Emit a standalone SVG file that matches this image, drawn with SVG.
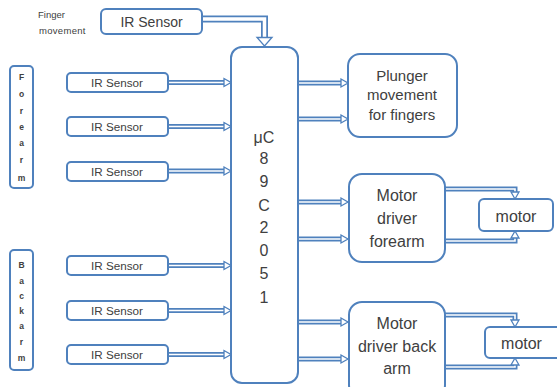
<svg xmlns="http://www.w3.org/2000/svg" width="557" height="387" viewBox="0 0 557 387">
<style>
.box{fill:#fff;stroke:#4F81BD;stroke-width:2}
.o{fill:none;stroke:#4F81BD;stroke-width:5;stroke-linejoin:miter}
.i{fill:none;stroke:#fff;stroke-width:1.6;stroke-linejoin:miter}
.ah{fill:#fff;stroke:#4F81BD;stroke-width:1.3;stroke-linejoin:miter}
text{font-family:"Liberation Sans",Arial,sans-serif;fill:#404040;text-anchor:middle}
.s{font-size:11.7px}
.m{font-size:16px}
.l{font-size:8.5px;font-weight:bold}
</style>
<rect width="557" height="387" fill="#fff"/>
<g id="connectors">
  <path class="o" d="M202,19H264.5V38" style="stroke-width:7"/>
  <path class="i" d="M202,19H264.5V38" style="stroke-width:3.5"/>
  <polygon class="ah" points="257,37.5 272,37.5 264.5,46"/>
  <g id="in-arrows">
    <path class="o" d="M168,82.5H225M168,126.5H225M168,171H225M168,265.5H225M168,310.5H225M168,354.5H225"/>
    <path class="i" d="M168,82.5H225M168,126.5H225M168,171H225M168,265.5H225M168,310.5H225M168,354.5H225"/>
    <path class="ah" d="M224,78.5L231,82.5L224,86.5ZM224,122.5L231,126.5L224,130.5ZM224,167L231,171L224,175ZM224,261.5L231,265.5L224,269.5ZM224,306.5L231,310.5L224,314.5ZM224,350.5L231,354.5L224,358.5Z"/>
  </g>
  <g id="out-arrows">
    <path class="o" d="M298,83H342M298,119H342M298,202H342M298,239H342M298,322H342M298,359H342"/>
    <path class="i" d="M298,83H342M298,119H342M298,202H342M298,239H342M298,322H342M298,359H342"/>
    <path class="ah" d="M341,79L348,83L341,87ZM341,115L348,119L341,123ZM341,198L348,202L341,206ZM341,235L348,239L341,243ZM341,318L348,322L341,326ZM341,355L348,359L341,363Z"/>
  </g>
  <g id="motor-arrows">
    <path class="o" d="M443,189H515V193M443,241H515V237M443,315H515V321M443,367H515V364"/>
    <path class="i" d="M443,189H515V193M443,241H515V237M443,315H515V321M443,367H515V364"/>
    <path class="ah" d="M511,192L515,199L519,192ZM511,238L515,231L519,238ZM511,320L515,327L519,320ZM511,365L515,358L519,365Z"/>
  </g>
</g>
<g id="finger-label">
  <text x="38" y="18" style="font-size:9.5px;text-anchor:start">Finger</text>
  <text x="39" y="34" style="font-size:9.5px;text-anchor:start;letter-spacing:0.3px">movement</text>
</g>
<g id="ir-top">
  <rect class="box" x="101" y="9" width="101" height="25" rx="5"/>
  <text x="151.5" y="26.5" style="font-size:14px">IR Sensor</text>
</g>
<g id="forearm">
  <rect class="box" x="10" y="66" width="23" height="122" rx="4"/>
  <text class="l" x="21.5" y="80">F</text>
  <text class="l" x="21.5" y="97">o</text>
  <text class="l" x="21.5" y="114">r</text>
  <text class="l" x="21.5" y="130">e</text>
  <text class="l" x="21.5" y="146">a</text>
  <text class="l" x="21.5" y="163">r</text>
  <text class="l" x="21.5" y="181">m</text>
</g>
<g id="backarm">
  <rect class="box" x="10" y="250" width="23" height="120" rx="4"/>
  <text class="l" x="21.5" y="268">B</text>
  <text class="l" x="21.5" y="284">a</text>
  <text class="l" x="21.5" y="299">c</text>
  <text class="l" x="21.5" y="314">k</text>
  <text class="l" x="21.5" y="329">a</text>
  <text class="l" x="21.5" y="345">r</text>
  <text class="l" x="21.5" y="361">m</text>
</g>
<g id="ir1"><rect class="box" x="67" y="73" width="101" height="19" rx="4"/><text class="s" x="117" y="86.7">IR Sensor</text></g>
<g id="ir2"><rect class="box" x="67" y="117" width="101" height="19" rx="4"/><text class="s" x="117" y="130.7">IR Sensor</text></g>
<g id="ir3"><rect class="box" x="67" y="162" width="101" height="19" rx="4"/><text class="s" x="117" y="175.7">IR Sensor</text></g>
<g id="ir4"><rect class="box" x="67" y="256" width="101" height="19" rx="4"/><text class="s" x="117" y="269.7">IR Sensor</text></g>
<g id="ir5"><rect class="box" x="67" y="301" width="101" height="19" rx="4"/><text class="s" x="117" y="314.7">IR Sensor</text></g>
<g id="ir6"><rect class="box" x="67" y="345" width="101" height="19" rx="4"/><text class="s" x="117" y="358.7">IR Sensor</text></g>
<g id="uc">
  <rect class="box" x="231" y="47" width="67" height="336" rx="11"/>
  <text class="m" x="264" y="143">μC</text>
  <text class="m" x="264" y="164">8</text>
  <text class="m" x="264" y="187">9</text>
  <text class="m" x="264" y="211">C</text>
  <text class="m" x="264" y="233">2</text>
  <text class="m" x="264" y="256">0</text>
  <text class="m" x="264" y="279">5</text>
  <text class="m" x="264" y="303">1</text>
</g>
<g id="plunger">
  <rect class="box" x="348" y="54" width="109" height="83" rx="12"/>
  <text x="402" y="80.5" style="font-size:15px">Plunger</text>
  <text x="402" y="100" style="font-size:15px">movement</text>
  <text x="402" y="119.5" style="font-size:15px">for fingers</text>
</g>
<g id="driver-forearm">
  <rect class="box" x="349" y="174" width="96" height="88" rx="13"/>
  <text class="m" x="397" y="201">Motor</text>
  <text class="m" x="397" y="224">driver</text>
  <text class="m" x="397" y="247">forearm</text>
</g>
<g id="motor1">
  <rect class="box" x="479" y="199" width="74" height="32" rx="5"/>
  <text class="m" x="516" y="221.5">motor</text>
</g>
<g id="driver-back">
  <rect class="box" x="349" y="302" width="96" height="96" rx="13"/>
  <text class="m" x="397" y="329">Motor</text>
  <text class="m" x="397" y="352">driver back</text>
  <text class="m" x="397" y="374">arm</text>
</g>
<g id="motor2">
  <rect class="box" x="485" y="327" width="76" height="31" rx="5"/>
  <text class="m" x="521.5" y="348.5">motor</text>
</g>
</svg>
